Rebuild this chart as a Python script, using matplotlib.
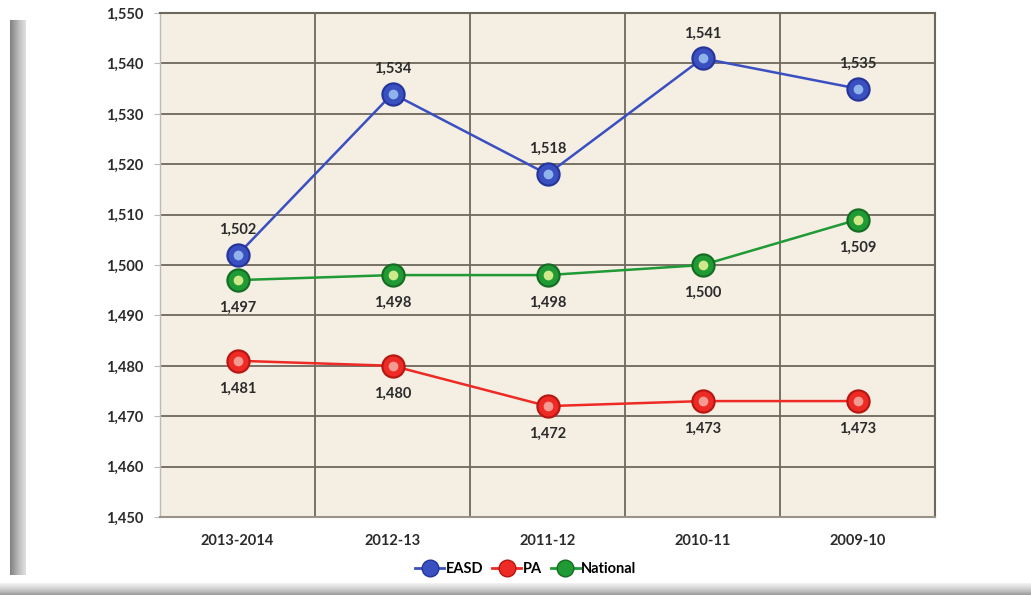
import matplotlib.pyplot as plt
import numpy as np

plt.rcParams['font.family'] = ['Lato', 'DejaVu Sans']

years = ['2013-2014', '2012-13', '2011-12', '2010-11', '2009-10']
easd = [1502, 1534, 1518, 1541, 1535]
pa = [1481, 1480, 1472, 1473, 1473]
national = [1497, 1498, 1498, 1500, 1509]

series = [
    ('EASD', easd, '#3a4fc0', '#24349a', '#8fb3ea', 'above'),
    ('PA', pa, '#ee2a24', '#b51612', '#f39a92', 'below'),
    ('National', national, '#1f9a35', '#146b22', '#cfe88a', 'below'),
]

fig = plt.figure(figsize=(10.31, 5.95), dpi=100)

# page decorations: left shadow (dark -> white) and bottom grey band
lax = fig.add_axes([10 / 1031, 20 / 595, 16 / 1031, 555 / 595])
lax.imshow(np.linspace(1, 0, 30).reshape(1, -1), aspect='auto', cmap='Greys',
           vmin=-0.6, vmax=2.2)
lax.axis('off')
bax = fig.add_axes([0, 0, 1, 12 / 595])
bax.imshow(np.linspace(0, 1, 20).reshape(-1, 1), aspect='auto', cmap='Greys',
           vmin=-0.3, vmax=2.4)
bax.axis('off')

ax = fig.add_axes([160 / 1031, 78 / 595, 775 / 1031, 504 / 595])
ax.set_facecolor('#f4eee3')
x = np.arange(len(years))

for name, vals, col, edge, light, pos in series:
    ax.plot(x, vals, color=col, lw=1.8, zorder=3)
    ax.plot(x, vals, ls='none', marker='o', ms=16, mfc=col, mec=edge, mew=1.5, zorder=4)
    ax.plot(x, vals, ls='none', marker='o', ms=7, mfc=light, mec='none', zorder=5)
    for xi, v in zip(x, vals):
        off = 13 if pos == 'above' else -15
        ax.annotate(f'{v:,}', (xi, v), xytext=(0, off), textcoords='offset points',
                    ha='center', va='bottom' if pos == 'above' else 'top',
                    fontsize=10.5, fontweight='bold', color='#2b2b2b', zorder=6)

ax.set_xlim(-0.5, len(years) - 0.5)
ax.set_ylim(1450, 1550)
ax.set_yticks(np.arange(1450, 1551, 10))
ax.set_yticklabels([f'{v:,}' for v in range(1450, 1551, 10)])
ax.set_xticks(x)
ax.set_xticklabels(years)
ax.set_xticks(np.arange(-0.5, len(years), 1), minor=True)
ax.grid(axis='y', color='#6e675c', lw=1.3, zorder=1)
ax.grid(axis='x', which='minor', color='#6e675c', lw=1.3, zorder=1)
ax.tick_params(axis='x', which='both', length=0, pad=12)
ax.tick_params(axis='y', length=4, color='#bbbbbb', pad=8)
for lab in ax.get_xticklabels() + ax.get_yticklabels():
    lab.set_fontweight('bold')
    lab.set_fontsize(10.5)
    lab.set_color('#2b2b2b')
for s in ax.spines.values():
    s.set_color('#6e675c')
    s.set_linewidth(1.5)
ax.spines['left'].set_color('#bbbbbb')
ax.spines['left'].set_linewidth(1)
ax.spines['bottom'].set_color('#9a9488')

handles = []
for name, vals, col, edge, light, pos in series:
    h, = ax.plot([], [], color=col, lw=2, marker='o', ms=12, mfc=col, mec=edge, label=name)
    handles.append(h)
leg = fig.legend(handles=handles, loc='center', bbox_to_anchor=(0.51, 0.043), ncol=3,
                 frameon=False, handlelength=2.0, handletextpad=0.1, columnspacing=0.6,
                 prop={'weight': 'bold', 'size': 10.5})

fig.savefig('out.png', dpi=100)
